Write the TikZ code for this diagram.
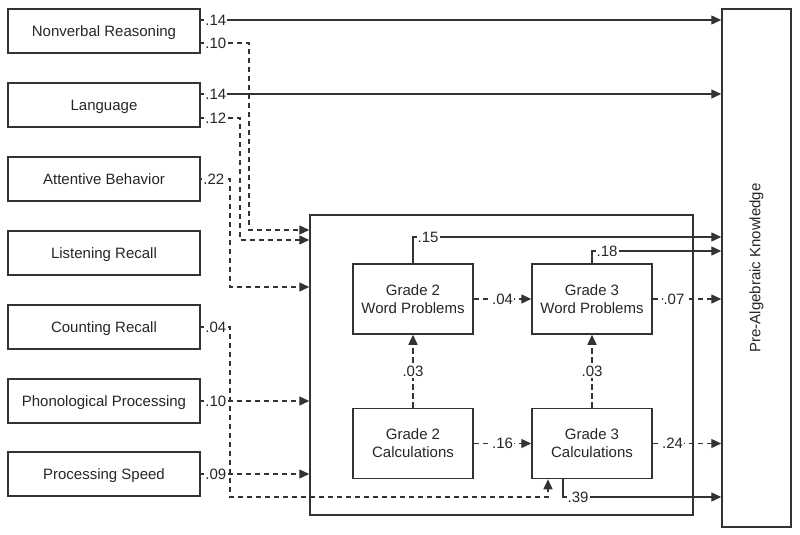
\documentclass[tikz,border=0pt]{standalone}
\usepackage{fontspec}
\setmainfont{Liberation Sans}
\usetikzlibrary{arrows.meta}
\begin{document}
\begin{tikzpicture}[x=1pt,y=-1pt,
 every node/.style={font=\fontsize{15}{18}\selectfont, text=black!85},
 box/.style={draw=black!80, line width=1.5pt, minimum width=192pt, minimum height=44pt, inner sep=0pt, text height=11pt, text depth=0pt},
 gbox/.style={draw=black!80, line width=1.5pt, minimum width=120pt, minimum height=70pt, align=center, inner sep=0pt},
 lbl/.style={fill=white, inner sep=1pt},
 conn/.style={draw=black!80, line width=1.4pt, -{Triangle[length=10pt,width=9pt]}},
 dconn/.style={conn, dash pattern=on 5.5pt off 3.5pt},
]
\path[use as bounding box] (0,0) rectangle (800,535);

% left boxes
\node[box] (nv)   at (104,31)  {Nonverbal Reasoning};
\node[box] (lang) at (104,105) {Language};
\node[box] (att)  at (104,179) {Attentive Behavior};
\node[box] (lis)  at (104,253) {Listening Recall};
\node[box] (cnt)  at (104,327) {Counting Recall};
\node[box] (pho)  at (104,401) {Phonological Processing};
\node[box] (spd)  at (104,474) {Processing Speed};

% outcome
\node[draw=black!80, line width=1.5pt, rotate=90, minimum width=518pt, minimum height=69pt, inner sep=0pt] (pak) at (756.5,268) {Pre-Algebraic Knowledge};

% group box
\node[draw=black!80, line width=1.5pt, minimum width=383pt, minimum height=300pt, inner sep=0pt] (grp) at (501.5,365) {};

% grade nodes
\node[gbox] (g2w) at (413,299)   {Grade 2\\Word Problems};
\node[gbox] (g3w) at (592,299)   {Grade 3\\Word Problems};
\node[gbox] (g2c) at (413,443.5) {Grade 2\\Calculations};
\node[gbox] (g3c) at (592,443.5) {Grade 3\\Calculations};

% left connectors
\draw[conn] (nv.east|-0,20) -- ++(3,0) node[lbl,anchor=west]{.14} -- (pak.north|-0,20);
\draw[conn] (lang.east|-0,94) -- ++(3,0) node[lbl,anchor=west]{.14} -- (pak.north|-0,94);
\draw[dconn] (nv.east|-0,43) -- ++(3,0) node[lbl,anchor=west]{.10} -- (249,43) -- (249,230) -- (grp.west|-0,230);
\draw[dconn] (lang.east|-0,118) -- ++(3,0) node[lbl,anchor=west]{.12} -- (240,118) -- (240,240) -- (grp.west|-0,240);
\draw[dconn] (att.east) -- ++(1,0) node[lbl,anchor=west]{.22} -- (230,179) -- (230,287) -- (grp.west|-0,287);
\draw[dconn] (cnt.east) -- ++(3,0) node[lbl,anchor=west]{.04} -- (230,327) -- (230,497) -- (548,497) -- (g3c.south-|548,0);
\draw[dconn] (pho.east) -- ++(3,0) node[lbl,anchor=west]{.10} -- (grp.west|-pho.east);
\draw[dconn] (spd.east) -- ++(3,0) node[lbl,anchor=west]{.09} -- (grp.west|-spd.east);

% inner connectors
\draw[conn] (g2w.north) -- (413,237) -- ++(3,0) node[lbl,anchor=west]{.15} -- (pak.north|-0,237);
\draw[conn] (g3w.north) -- (592,251) -- ++(3,0) node[lbl,anchor=west]{.18} -- (pak.north|-0,251);
\draw[dconn] (g2w.east) -- node[lbl]{.04} (g3w.west);
\draw[dconn] (g3w.east) -- node[lbl,pos=0.31]{.07} (pak.north|-g3w.east);
\draw[dconn] (g2c.north) -- node[lbl]{.03} (g2w.south);
\draw[dconn] (g3c.north) -- node[lbl]{.03} (g3w.south);
\draw[dconn] (g2c.east) -- node[lbl]{.16} (g3c.west);
\draw[dconn] (g3c.east) -- node[lbl,pos=0.29]{.24} (pak.north|-g3c.east);
\draw[conn] (g3c.south-|563,0) -- (563,497) -- ++(3,0) node[lbl,anchor=west]{.39} -- (pak.north|-0,497);
\end{tikzpicture}
\end{document}
